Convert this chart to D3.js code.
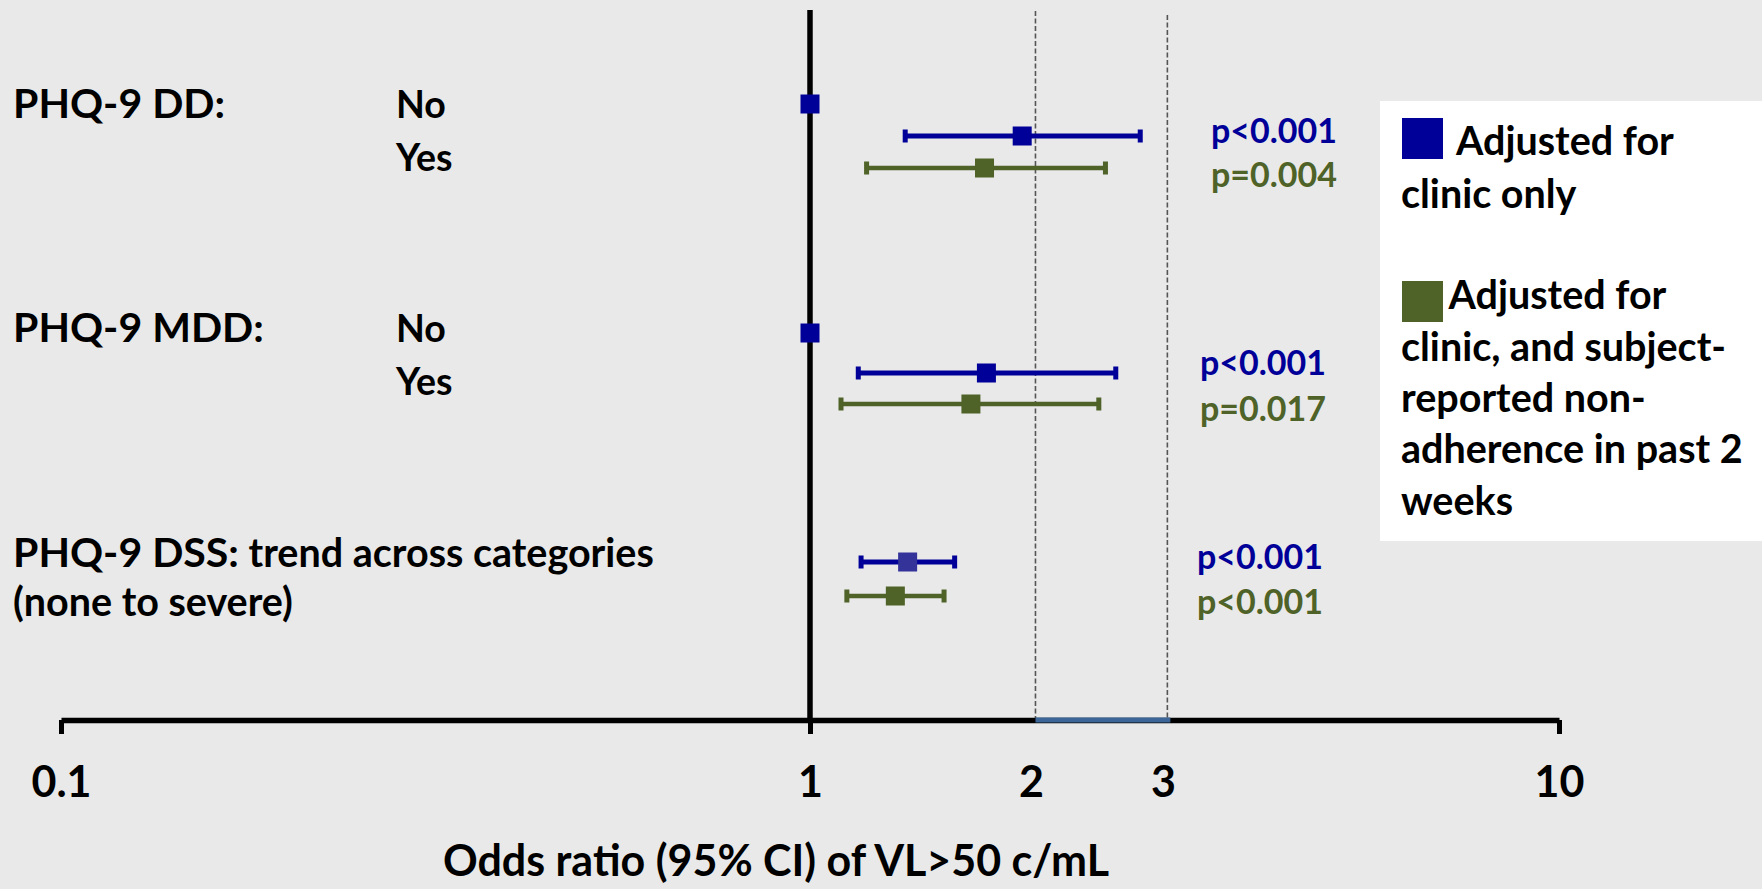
<!DOCTYPE html>
<html>
<head>
<meta charset="utf-8">
<script src="https://cdn.jsdelivr.net/npm/d3@7"></script>
<style>
  html, body { margin: 0; padding: 0; background: #e9e9e9; }
  svg { display: block; }
  text { font-family: "Lato", "Open Sans", sans-serif; font-weight: 700; }
</style>
</head>
<body>
<svg id="chart" width="1762" height="889"></svg>
<script>
// ---------------- DATA ----------------
const groupLabels = ["PHQ-9 DD:", "PHQ-9 MDD:", "PHQ-9 DSS:"];
const groupSubLabels = ["", "", "trend across categories"];
const groupSubLabel2 = ["", "", "(none to severe)"];
const levelLabels = ["No", "Yes"];
const seriesNames = ["Adjusted for clinic only",
  "Adjusted for clinic, and subject-reported non-adherence in past 2 weeks"];
const legendLines = [["Adjusted for", "clinic only"],
  ["Adjusted for", "clinic, and subject-", "reported non-", "adherence in past 2", "weeks"]];

// reference category (odds ratio = 1), null where no reference row
const refOR = [1, 1, null];
// series 1: adjusted for clinic only
const orClinic = [1.92, 1.72, 1.35];
const loClinic = [1.34, 1.16, 1.17];
const hiClinic = [2.76, 2.56, 1.56];
const pClinic = ["p<0.001", "p<0.001", "p<0.001"];
// series 2: adjusted for clinic and non-adherence
const orAdh = [1.71, 1.64, 1.30];
const loAdh = [1.19, 1.10, 1.12];
const hiAdh = [2.48, 2.43, 1.51];
const pAdh = ["p=0.004", "p=0.017", "p<0.001"];

const xTickValues = [0.1, 1, 10];
const xExtraLabels = [2, 3];
const refBand = [2, 3];
const xTitle = "Odds ratio (95% CI) of VL>50 c/mL";

// ---------------- LAYOUT ----------------
const W = 1762, H = 889;
const colors = ["#000099", "#4f6228"];
const axisY = 720;
const svg = d3.select("#chart");
svg.append("rect").attr("width", W).attr("height", H).attr("fill", "#e9e9e9");

const x = d3.scaleLog().domain([0.1, 10]).range([61, 1559]);

// row positions (layout)
const refRowY = [104, 333, null];
const seriesRowY = [[136, 373, 562], [168, 404, 596]];
const groupLabelBase = [118, 341.5, 567];
const levelBase = [[118, 171], [341.5, 394.5], null];
const pX = [1211, 1200, 1197];
const pBase = [[143, 375, 569], [187, 421, 614]];

// ---------- reference lines ----------
svg.append("line")
  .attr("x1", x(1)).attr("x2", x(1)).attr("y1", 10).attr("y2", axisY)
  .attr("stroke", "#000").attr("stroke-width", 5.5);

const dashTop = [11, 15];
svg.selectAll("line.dash").data(refBand).join("line")
  .attr("class", "dash")
  .attr("x1", d => x(d)).attr("x2", d => x(d))
  .attr("y1", (d, i) => dashTop[i]).attr("y2", axisY)
  .attr("stroke", "#555").attr("stroke-width", 1.6)
  .attr("stroke-dasharray", "5,2.5");

// ---------- axis ----------
const axis = d3.axisBottom(x).tickValues(xTickValues).tickSize(14).tickSizeOuter(0)
  .tickFormat(d3.format("~g"));
const gAxis = svg.append("g").attr("transform", `translate(0,${axisY})`).call(axis);
gAxis.select(".domain").attr("stroke", "#000").attr("stroke-width", 5.5);
gAxis.selectAll(".tick line").attr("stroke", "#000").attr("stroke-width", 5);
gAxis.selectAll(".tick text")
  .attr("y", 77).attr("dy", 0)
  .attr("fill", "#000").attr("font-size", 43).attr("font-family", "Lato")
  .attr("font-weight", 700);

svg.append("line")
  .attr("x1", x(refBand[0])).attr("x2", x(refBand[1]) + 3)
  .attr("y1", axisY).attr("y2", axisY)
  .attr("stroke", "#3c6698").attr("stroke-width", 5);

svg.selectAll("text.xextra").data(xExtraLabels).join("text")
  .attr("class", "xextra")
  .attr("x", d => x(d) - 4).attr("y", axisY + 77)
  .attr("text-anchor", "middle").attr("font-size", 43).attr("fill", "#000")
  .text(d => d);

svg.append("text")
  .attr("x", 776).attr("y", 876).attr("text-anchor", "middle")
  .attr("font-size", 43).attr("fill", "#000").text(xTitle);

// ---------- labels ----------
groupLabels.forEach((g, i) => {
  const t = svg.append("text").attr("x", 13).attr("y", groupLabelBase[i])
    .attr("fill", "#000").attr("font-size", 41);
  t.append("tspan").text(g);
  if (groupSubLabels[i]) t.append("tspan").attr("font-size", 39.5).text(" " + groupSubLabels[i]);
  if (groupSubLabel2[i]) {
    svg.append("text").attr("x", 13).attr("y", groupLabelBase[i] + 49)
      .attr("fill", "#000").attr("font-size", 39.5).text(groupSubLabel2[i]);
  }
  if (levelBase[i]) {
    levelLabels.forEach((l, j) => {
      svg.append("text").attr("x", 396).attr("y", levelBase[i][j])
        .attr("fill", "#000").attr("font-size", 37.5).text(l);
    });
  }
});

// ---------- reference markers ----------
const ms = 19;
refOR.forEach((v, i) => {
  if (v == null) return;
  svg.append("rect")
    .attr("x", x(v) - ms / 2).attr("y", refRowY[i] - ms / 2)
    .attr("width", ms).attr("height", ms).attr("fill", colors[0]);
});

// ---------- error bars ----------
const series = [
  { or: orClinic, lo: loClinic, hi: hiClinic, p: pClinic },
  { or: orAdh, lo: loAdh, hi: hiAdh, p: pAdh }
];
series.forEach((s, si) => {
  const col = colors[si];
  const g = svg.append("g");
  s.or.forEach((v, i) => {
    const y = seriesRowY[si][i];
    g.append("line")
      .attr("x1", x(s.lo[i])).attr("x2", x(s.hi[i]))
      .attr("y1", y).attr("y2", y)
      .attr("stroke", col).attr("stroke-width", si === 0 ? 5 : 4.5);
    [s.lo[i], s.hi[i]].forEach(c => {
      g.append("rect")
        .attr("x", x(c) - 2.5).attr("y", y - 6.5)
        .attr("width", 5).attr("height", 13).attr("fill", col);
    });
    g.append("rect")
      .attr("x", x(v) - ms / 2).attr("y", y - ms / 2)
      .attr("width", ms).attr("height", ms)
      .attr("fill", (si === 0 && i === 2) ? "#333399" : col);
    svg.append("text")
      .attr("x", pX[i]).attr("y", pBase[si][i])
      .attr("fill", col).attr("font-size", 34).text(s.p[i]);
  });
});

// ---------- legend ----------
const lg = svg.append("g");
lg.append("rect").attr("x", 1380).attr("y", 101).attr("width", 400).attr("height", 440)
  .attr("fill", "#fff");
const legendSwatchY = [118, 281];
const legendFirstX = [1456, 1448.5];
const legendBase = [[155, 208], [309, 361, 412, 462.5, 514.5]];
seriesNames.forEach((n, i) => {
  lg.append("rect").attr("x", 1402).attr("y", legendSwatchY[i])
    .attr("width", 41).attr("height", 41).attr("fill", colors[i]);
  legendLines[i].forEach((line, j) => {
    lg.append("text").attr("x", j === 0 ? legendFirstX[i] : 1401)
      .attr("y", legendBase[i][j]).attr("fill", "#000").attr("font-size", 39.5)
      .text(line);
  });
});
</script>
</body>
</html>
